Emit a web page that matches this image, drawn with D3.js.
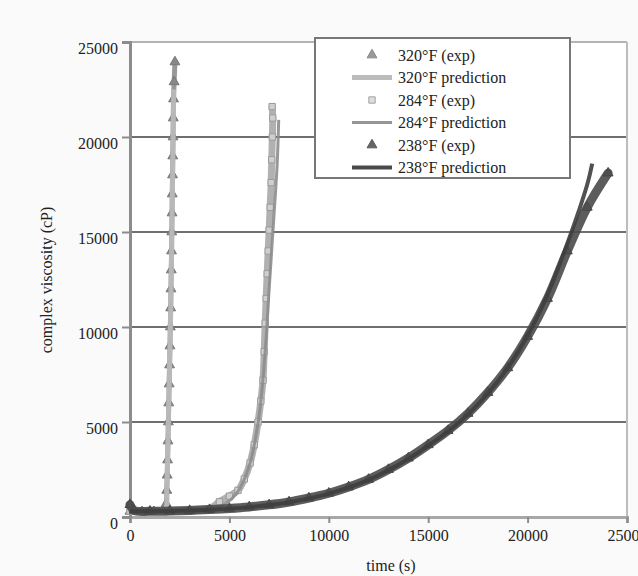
<!DOCTYPE html>
<html lang="en">
<head>
<meta charset="UTF-8">
<title>Complex viscosity vs time</title>
<script src="https://d3js.org/d3.v7.min.js"></script>
<style>
    body { margin: 0; background: #fafafa; }
    svg { font-family: "Liberation Serif", "Times New Roman", serif; font-size: 16px; }
</style>
</head>
<body>
<div id="chart"></div>
<script>
    // ---- data: [time (s), complex viscosity (cP)] ----
    var exp320 = [[0, 300], [600, 280], [1200, 280], [1700, 300], [1820, 700], [1850, 1400], [1870, 2200],
        [1890, 3000], [1910, 4000], [1930, 5000], [1950, 6000], [1970, 7000], [1990, 8000], [2010, 9000],
        [2030, 10000], [2045, 11000], [2060, 12000], [2075, 13000], [2090, 14000], [2100, 15000],
        [2115, 16000], [2125, 17000], [2140, 18000], [2150, 19000], [2165, 20000], [2175, 21000],
        [2190, 22000], [2220, 22900], [2260, 23950]];
    var pred320 = [[0, 290], [1000, 280], [1750, 320], [1850, 1500], [1900, 3500], [1950, 6000],
        [2000, 8500], [2050, 11000], [2100, 14500], [2150, 18500], [2200, 22500]];

    var exp284 = [[0, 300], [1000, 300], [2000, 310], [3000, 330], [4000, 420], [4500, 800], [5000, 1100],
        [5430, 1400], [5750, 2000], [6040, 2840], [6250, 3800], [6440, 5000], [6580, 6100], [6690, 7200],
        [6750, 8700], [6800, 10200], [6850, 11500], [6900, 12800], [6950, 14000], [7000, 15100],
        [7050, 16300], [7100, 17600], [7130, 18800], [7160, 20000], [7180, 21000], [7150, 21600]];
    var pred284 = [[0, 290], [2000, 300], [4000, 380], [4800, 700], [5400, 1300], [6000, 2700],
        [6450, 5000], [6750, 8000], [7000, 12000], [7250, 16000], [7400, 18500], [7480, 20900]];

    var exp238 = [[0, 650], [200, 350], [1000, 300], [2000, 310], [3000, 340], [4000, 390], [5000, 450],
        [6000, 530], [7000, 640], [8000, 790], [9000, 1000], [10000, 1250], [11000, 1580], [12000, 1980],
        [13000, 2500], [14000, 3100], [15000, 3800], [16000, 4550], [17000, 5450], [18000, 6550],
        [19000, 7850], [20000, 9500], [21000, 11500], [22000, 14000], [23000, 16300], [24050, 18100]];
    var pred238 = [[0, 300], [2000, 310], [4000, 380], [6000, 520], [8000, 780], [10000, 1230],
        [12000, 1950], [14000, 3050], [15000, 3750], [16000, 4500], [17000, 5400], [18000, 6500],
        [19000, 7850], [20000, 9550], [21000, 11700], [22000, 14400], [23000, 17500], [23250, 18600]];

    var xTicks = [0, 5000, 10000, 15000, 20000, 25000];
    var yTicks = [0, 5000, 10000, 15000, 20000, 25000];

    var legendLabels = ["320°F (exp)", "320°F prediction", "284°F (exp)", "284°F prediction",
        "238°F (exp)", "238°F prediction"];

    // ---- layout ----
    var margin = {top: 42, right: 11, bottom: 59, left: 130},
        width = 638 - margin.left - margin.right,
        height = 576 - margin.top - margin.bottom;

    var svg = d3.select("#chart").append("svg")
        .attr("width", 638)
        .attr("height", 576);

    var g = svg.append("g")
        .attr("transform", "translate(" + margin.left + "," + margin.top + ")");

    var x = d3.scaleLinear().domain([0, 25000]).range([0, width]);
    var y = d3.scaleLinear().domain([0, 25000]).range([height, 0]);

    g.append("rect")
        .attr("width", width).attr("height", height)
        .attr("fill", "#ffffff");

    // horizontal gridlines
    g.selectAll(".grid")
        .data(yTicks.filter(function(d) { return d > 0; }))
        .enter().append("line")
        .attr("x1", 0).attr("x2", width)
        .attr("y1", function(d) { return y(d); })
        .attr("y2", function(d) { return y(d); })
        .attr("stroke", function(d) { return d == 25000 ? "#b4b4b4" : "#6f6f6f"; })
        .attr("stroke-width", 2);

    // right frame
    g.append("line")
        .attr("x1", width).attr("x2", width)
        .attr("y1", 0).attr("y2", height)
        .attr("stroke", "#bdbdbd").attr("stroke-width", 2);

    // axes
    var xAxis = g.append("g")
        .attr("transform", "translate(0," + height + ")")
        .call(d3.axisBottom(x).tickValues(xTicks).tickFormat(d3.format("d")).tickSize(6).tickPadding(7));
    var yAxis = g.append("g")
        .call(d3.axisLeft(y).tickValues(yTicks).tickFormat(d3.format("d")).tickSize(8).tickPadding(4));

    xAxis.select(".domain").attr("stroke", "#a8a8a8").attr("stroke-width", 3);
    yAxis.select(".domain").attr("stroke", "#8c8c8c").attr("stroke-width", 3);
    svg.selectAll(".tick line").attr("stroke", "#8c8c8c").attr("stroke-width", 2);
    svg.selectAll(".tick text")
        .attr("fill", "#222")
        .style("font-size", "16px")
        .style("font-family", "Liberation Serif, serif");
    yAxis.selectAll(".tick text").attr("dy", "0.7em");

    // axis titles
    svg.append("text")
        .attr("x", 391).attr("y", 571)
        .attr("text-anchor", "middle")
        .attr("fill", "#222")
        .text("time (s)");
    svg.append("text")
        .attr("transform", "translate(52,280) rotate(-90)")
        .attr("text-anchor", "middle")
        .attr("fill", "#222")
        .text("complex viscosity (cP)");

    // ---- series ----
    var line = d3.line()
        .x(function(d) { return x(d[0]); })
        .y(function(d) { return y(d[1]); })
        .curve(d3.curveCatmullRom);

    var tri = d3.symbol().type(d3.symbolTriangle).size(42);
    var sq = d3.symbol().type(d3.symbolSquare).size(40);

    var series = [
        {exp: exp320, pred: pred320, marker: tri, mFill: "#888", mStroke: "#777", trail: "#8e8e8e", trailW: 5,
            pColor: "#bcbcbc", pWidth: 5},
        {exp: exp284, pred: pred284, marker: sq, mFill: "#cfcfcf", mStroke: "#9a9a9a", trail: "#a9a9a9", trailW: 7,
            pColor: "#8d8d8d", pWidth: 3},
        {exp: exp238, pred: pred238, marker: tri, mFill: "#505050", mStroke: "#474747", trail: "#4a4a4a", trailW: 9,
            pColor: "#3e3e3e", pWidth: 4}
    ];

    series.forEach(function(s) {
        // the experimental points are so dense that they form a band
        g.append("path")
            .attr("d", line(s.exp))
            .attr("fill", "none")
            .attr("stroke", s.trail)
            .attr("stroke-width", s.trailW)
            .attr("stroke-linecap", "round")
            .attr("opacity", 0.9);
        g.selectAll(null)
            .data(s.exp).enter().append("path")
            .attr("d", s.marker)
            .attr("transform", function(d) { return "translate(" + x(d[0]) + "," + y(d[1]) + ")"; })
            .attr("fill", s.mFill)
            .attr("stroke", s.mStroke)
            .attr("stroke-width", 1);
        g.append("path")
            .attr("d", line(s.pred))
            .attr("fill", "none")
            .attr("stroke", s.pColor)
            .attr("stroke-width", s.pWidth)
            .attr("opacity", 0.9);
    });

    // ---- legend ----
    var lg = svg.append("g").attr("transform", "translate(315,38)");
    lg.append("rect")
        .attr("width", 255).attr("height", 140)
        .attr("fill", "#ffffff")
        .attr("stroke", "#777").attr("stroke-width", 2);

    var legendItems = [
        {type: "marker", sym: tri, fill: "#9a9a9a", stroke: "#8a8a8a"},
        {type: "line", color: "#bcbcbc", w: 5},
        {type: "marker", sym: sq, fill: "#dddddd", stroke: "#a0a0a0"},
        {type: "line", color: "#969696", w: 3},
        {type: "marker", sym: tri, fill: "#666", stroke: "#5a5a5a"},
        {type: "line", color: "#4a4a4a", w: 4}
    ];

    var rows = lg.selectAll(".row")
        .data(legendItems).enter().append("g")
        .attr("transform", function(d, i) { return "translate(0," + (17 + i * 22.5) + ")"; });

    rows.each(function(d, i) {
        var r = d3.select(this);
        if (d.type == "marker") {
            r.append("path")
                .attr("d", d.sym)
                .attr("transform", "translate(57,0)")
                .attr("fill", d.fill).attr("stroke", d.stroke);
        } else {
            r.append("line")
                .attr("x1", 37).attr("x2", 77)
                .attr("stroke", d.color).attr("stroke-width", d.w);
        }
        r.append("text")
            .attr("x", 83).attr("dy", "0.35em")
            .attr("fill", "#222")
            .text(legendLabels[i]);
    });
</script>
</body>
</html>
